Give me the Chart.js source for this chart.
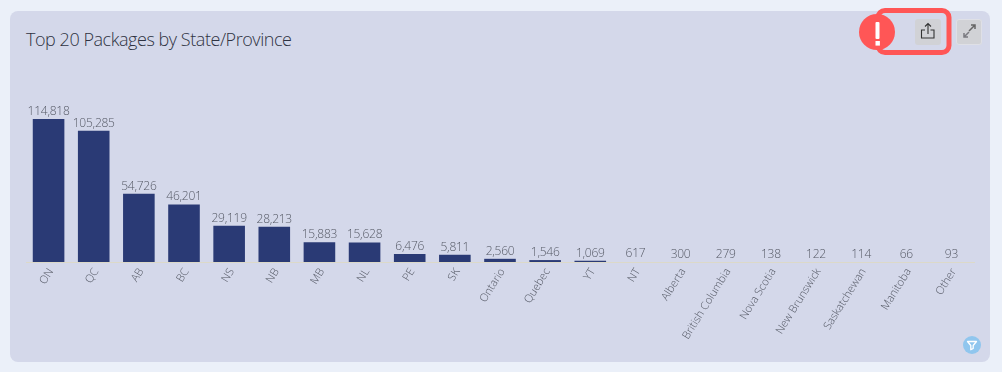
<!DOCTYPE html>
<html>
<head>
<meta charset="utf-8">
<script src="https://cdn.jsdelivr.net/npm/chart.js@4/dist/chart.umd.min.js"></script>
<style>
html,body{margin:0;padding:0;width:1002px;height:372px;overflow:hidden;background:#ebf0f9;font-family:"Open Sans",sans-serif}
#card{position:absolute;left:10px;top:11px;width:980px;height:351px;background:#d4d8ea;border-radius:8px}
#title{position:absolute;left:26px;top:27px;font-size:18px;letter-spacing:-0.45px;font-weight:300;line-height:24px;color:#2f3342;white-space:nowrap}
canvas{position:absolute;left:0;top:0}
.btn{position:absolute;top:19px;width:26px;height:26px;border-radius:3px;background:#d1d2d6}
#overlay{position:absolute;left:0;top:0;pointer-events:none}
</style>
</head>
<body>
<div id="card"></div>
<div id="title">Top 20 Packages by State/Province</div>
<canvas id="c" width="1002" height="372"></canvas>
<div class="btn" style="left:915px"></div>
<div class="btn" style="left:956px;box-shadow:inset 0 0 0 1px #dfe0e6"></div>
<svg id="overlay" width="1002" height="372" viewBox="0 0 1002 372">
  <rect x="878" y="10.500" width="71" height="42" rx="7" fill="none" stroke="#ff5656" stroke-width="5"/>
  <circle cx="877" cy="32" r="18" fill="#ff5656"/>
  <rect x="875.500" y="22" width="4" height="17" rx="1" fill="#fff"/>
  <rect x="875.500" y="41" width="4.400" height="4.600" fill="#fff"/>
  <g fill="none" stroke="#333" stroke-width="1.100">
    <path d="M925 30h-3.500v8h12.500v-8h-3.500"/>
    <path d="M928 34V24M925 26.500l3-3 3 3"/>
  </g>
  <path d="M964 37l5-5M964 33v4h4" fill="none" stroke="#7a7a80" stroke-width="1.500"/>
  <path d="M969 31l6-6M971 25h4v4" fill="none" stroke="#666" stroke-width="1.500"/>
  <circle cx="972" cy="345" r="9" fill="#90c6ee"/>
  <path d="M967.500 341.500h9l-3.300 4v3l-2.400 1.200v-4.200z" fill="none" stroke="#fff" stroke-width="1.300" stroke-linejoin="round"/>
</svg>
<script>
const categories = ["ON","QC","AB","BC","NS","NB","MB","NL","PE","SK","Ontario","Quebec","YT","NT","Alberta","British Columbia","Nova Scotia","New Brunswick","Saskatchewan","Manitoba","Other"];
const packages = [114818,105285,54726,46201,29119,28213,15883,15628,6476,5811,2560,1546,1069,617,300,279,138,122,114,66,93];
const barColor = "#2a3a75";
const labelColor = "#565a66";
const tickColor = "#555965";
const axisColor = "#dcd9c8";

const valueLabels = {
  id: "valueLabels",
  afterDatasetsDraw(chart) {
    const ctx = chart.ctx;
    const meta = chart.getDatasetMeta(0);
    ctx.save();
    ctx.font = '300 12px "Open Sans", sans-serif';
    ctx.letterSpacing = "-0.25px";
    ctx.fillStyle = labelColor;
    ctx.textAlign = "center";
    ctx.textBaseline = "bottom";
    meta.data.forEach((bar, i) => {
      ctx.fillText(packages[i].toLocaleString("en-US"), bar.x, bar.y - 1.5);
    });
    ctx.restore();
  }
};

new Chart(document.getElementById("c"), {
  type: "bar",
  data: {
    labels: categories,
    datasets: [{
      data: packages,
      // Bars under one pixel tall do not show in the reference.
      backgroundColor(ctx) {
        const y = ctx.chart.scales.y;
        const h = y.getPixelForValue(0) - y.getPixelForValue(ctx.raw);
        return h < 1 ? "rgba(0,0,0,0)" : barColor;
      },
      borderWidth: 0,
      categoryPercentage: 1,
      barPercentage: 0.7
    }]
  },
  options: {
    responsive: false,
    animation: false,
    layout: { padding: { left: 26, right: 28, top: 90, bottom: 0 } },
    plugins: { legend: { display: false }, tooltip: { enabled: false } },
    scales: {
      x: {
        afterFit(scale) { scale.height = 110; },
        grid: { display: false, drawTicks: false },
        border: { color: axisColor, width: 1, z: 1 },
        ticks: {
          autoSkip: false,
          minRotation: 58,
          maxRotation: 58,
          padding: 4,
          labelOffset: 2.5,
          color: tickColor,
          font: { family: '"Open Sans", sans-serif', size: 11, weight: 300 }
        }
      },
      y: {
        display: false,
        min: 0,
        max: 138100
      }
    }
  },
  plugins: [valueLabels]
});
</script>
</body>
</html>
